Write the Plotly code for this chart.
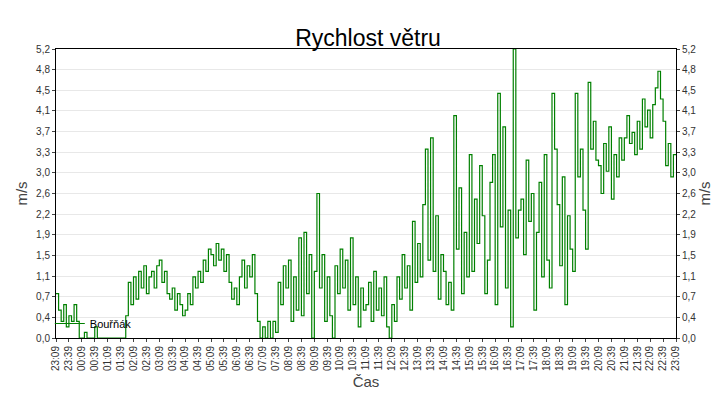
import pandas as pd
import plotly.graph_objects as go

# wind speed [m/s], 6 minute steps from 23:09, one row per hour
wind_speed = [
    0.8, 0.5, 0.3, 0.6, 0.2, 0.4, 0.3, 0.6, 0.3, 0.0,
    0.0, 0.1, 0.0, 0.0, 0.0, 0.2, 0.0, 0.0, 0.0, 0.0,
    0.0, 0.0, 0.0, 0.0, 0.0, 0.0, 0.0, 0.4, 1.0, 0.6,
    1.1, 0.7, 1.2, 0.9, 1.3, 0.8, 1.1, 1.2, 0.9, 1.3,
    1.4, 1.0, 1.2, 0.8, 0.7, 0.9, 0.5, 0.8, 0.6, 0.4,
    0.5, 0.8, 0.6, 1.1, 0.9, 1.2, 1.0, 1.4, 1.2, 1.6,
    1.5, 1.3, 1.7, 1.4, 1.6, 1.2, 1.5, 1.0, 0.7, 0.9,
    0.6, 1.1, 1.4, 0.9, 1.3, 1.1, 1.5, 0.8, 0.3, 0.0,
    0.2, 0.0, 0.3, 0.0, 0.3, 0.1, 1.0, 0.6, 1.3, 0.9,
    1.4, 0.3, 1.1, 0.5, 1.8, 0.4, 1.9, 0.8, 1.5, 0.0,
    1.2, 2.6, 0.9, 1.5, 0.3, 1.1, 0.4, 0.0, 1.3, 0.8,
    1.6, 0.9, 1.4, 0.5, 1.8, 0.6, 1.1, 0.2, 0.9, 0.5,
    0.6, 1.0, 0.3, 1.2, 0.5, 0.9, 0.4, 1.1, 0.2, 0.0,
    0.6, 0.3, 1.1, 0.7, 1.5, 0.9, 1.3, 0.5, 2.1, 1.0,
    1.7, 1.1, 2.4, 3.4, 1.4, 3.6, 1.2, 2.2, 0.7, 1.5,
    1.2, 0.6, 1.0, 0.5, 4.0, 1.6, 2.7, 0.8, 1.9, 1.1,
    3.3, 1.2, 2.5, 1.7, 3.1, 2.2, 0.8, 1.4, 2.8, 3.3,
    0.6, 4.4, 2.0, 3.8, 0.9, 2.3, 0.2, 5.2, 1.8, 2.3,
    2.5, 1.5, 3.2, 2.1, 2.6, 0.5, 1.9, 2.8, 1.1, 3.3,
    1.4, 0.9, 4.4, 3.4, 2.4, 1.3, 2.9, 0.6, 2.2, 1.6,
    1.2, 4.4, 2.9, 3.4, 2.3, 1.6, 4.6, 3.4, 3.9, 3.2,
    3.1, 2.6, 3.5, 3.0, 3.8, 2.5, 3.3, 2.9, 3.6, 3.2,
    3.6, 4.0, 3.5, 3.7, 3.3, 3.9, 3.4, 4.3, 3.8, 4.1,
    3.6, 4.2, 4.5, 4.8, 4.3, 3.9, 3.1, 3.5, 2.9, 3.3,
    3.3,
]
times = pd.date_range("2023-01-01 23:09", periods=len(wind_speed), freq="6min")

ytick_vals = [i * 5.2 / 14 for i in range(15)]
ytick_text = [f"{v:.1f}".replace(".", ",") for v in ytick_vals]

fig = go.Figure()
fig.add_trace(go.Scatter(x=times, y=wind_speed, mode="lines", name="Bouřňák",
                         line=dict(color="#008000", width=1.2, shape="hv")))
# neviditelná stopa kvůli pravé ose
fig.add_trace(go.Scatter(x=times[:1], y=[0], yaxis="y2", showlegend=False,
                         mode="markers", marker=dict(opacity=0), hoverinfo="skip"))

axis_common = dict(range=[0, 5.2], tickvals=ytick_vals, ticktext=ytick_text,
                   showline=True, linecolor="black", ticks="outside", ticklen=3,
                   tickfont=dict(size=10, color="#333"), title_font=dict(size=15, color="#444"))

fig.update_layout(
    width=720, height=400,
    margin=dict(l=48, r=52, t=41, b=70),
    paper_bgcolor="white", plot_bgcolor="white",
    font=dict(family="Liberation Sans, Arial"),
    title=dict(text="Rychlost větru", x=0.5, y=0.945, font=dict(size=23, color="black")),
    xaxis=dict(type="date", range=[times[0], times[-1]], dtick=30 * 60 * 1000,
               tick0=times[0], tickformat="%H:%M", tickangle=-90,
               showgrid=False, showline=True, linecolor="black", mirror=True,
               ticks="outside", ticklen=3, tickfont=dict(size=10, color="#333"),
               title=dict(text="Čas", font=dict(size=15, color="#444"), standoff=6)),
    yaxis=dict(**axis_common, showgrid=True, gridcolor="#e8e8e8",
               title=dict(text="m/s", standoff=4)),
    yaxis2=dict(**axis_common, overlaying="y", side="right", showgrid=False,
                title=dict(text="m/s", standoff=4)),
    legend=dict(x=-0.01, y=0.0, xanchor="left", yanchor="bottom",
                bgcolor="rgba(0,0,0,0)", font=dict(size=11, color="black"),
                itemwidth=30),
    showlegend=True,
)

fig.write_html("out.html")
